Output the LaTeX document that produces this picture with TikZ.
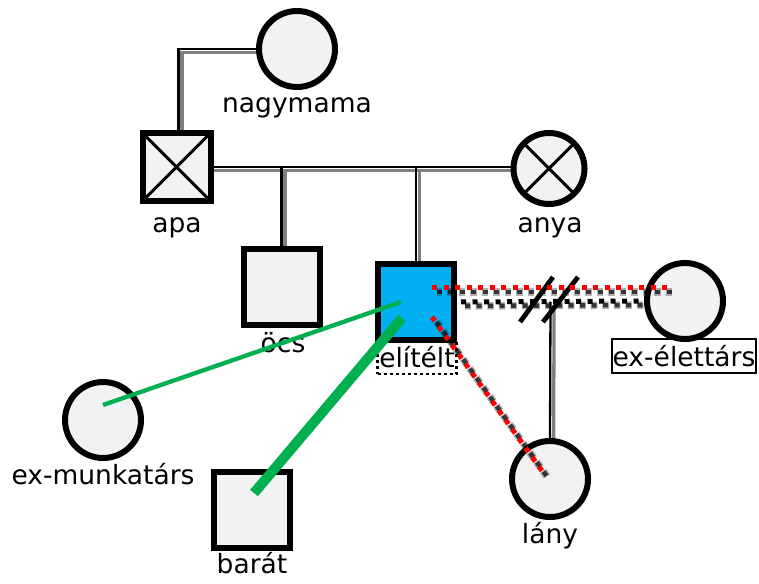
\documentclass[tikz,border=0pt]{standalone}
\usepackage{fontspec}
\setmainfont{DejaVu Sans}
\usetikzlibrary{calc,backgrounds}
\definecolor{pfill}{HTML}{F2F2F2}
\definecolor{eliblue}{HTML}{00B0F0}
\definecolor{relgreen}{HTML}{00B050}
\begin{document}
\begin{tikzpicture}[x=1pt,y=-1pt,
  person/.style={draw=black, line width=6pt, fill=pfill, inner sep=0pt, outer sep=0pt},
  male/.style={person, rectangle, minimum size=76pt},
  female/.style={person, circle, minimum size=76pt},
  lblfont/.style={font=\fontsize{26.5}{31}\selectfont},
  lbl/.style={lblfont, anchor=base, inner sep=0pt},
  famline/.style={line width=2.3pt, draw=black, preaction={draw=gray, line width=3.3pt, transform canvas={shift={(3.6pt,-3.6pt)}}}},
  dotshadow/.style={preaction={draw=black, opacity=0.3, line width=7.5pt, dash pattern=on 6.5pt off 5pt, dash phase=0.75pt, transform canvas={shift={(#1)}}}, preaction={draw=black, opacity=0.7, line width=4.5pt, dash pattern=on 5pt off 6.5pt, transform canvas={shift={(#1)}}}},
  reddots/.style={dotshadow={4.5pt,-5pt}, draw=red, line width=5pt, dash pattern=on 5pt off 6.5pt},
  blackdots/.style={dotshadow={4pt,-4pt}, draw=black, line width=5pt, dash pattern=on 5pt off 6.5pt},
  hashmark/.style={draw=black, line width=4.8pt},
  relthin/.style={draw=relgreen, line width=4.3pt},
  relthick/.style={draw=relgreen, line width=10pt},
]
\useasboundingbox (0,0) rectangle (759,583);

% label behind elitelt
\node[lblfont, draw=black, line width=2.8pt, dash pattern=on 3pt off 3pt, minimum width=79pt, minimum height=33pt, inner sep=0pt] (elil) at (417,357.5) {elítélt};

% persons
\node[female] (nagy) at (297,49) {};
\node[male, minimum size=68pt] (apa) at (176.5,167) {};
\draw[line width=3pt] (apa.north west) -- (apa.south east) (apa.north east) -- (apa.south west);
\node[female, minimum size=71pt] (anya) at (549,168.5) {};
\draw[line width=3pt] (anya.north west) -- (anya.south east) (anya.north east) -- (anya.south west);
\node[male] (ocs) at (281.5,287) {};
\node[male, fill=eliblue] (eli) at (416,302) {};
\node[female] (exe) at (685,301) {};
\node[female] (lany) at (550,479) {};
\node[female] (exm) at (103,420) {};
\node[male] (barat) at (252,510) {};

\node[lbl] (nagyl) at (297,113) {nagymama};
\node[lbl] (apal) at (177,232) {apa};
\node[lbl] (anyal) at (550,232) {anya};
\node[lbl] (ocsl) at (283,352) {öcs};
\node[lbl] (exml) at (103,484) {ex-munkatárs};
\node[lbl] (baratl) at (252,573) {barát};
\node[lbl] (lanyl) at (550,543) {lány};
\node[lblfont, draw=black, line width=1.8pt, minimum width=144pt, minimum height=34pt, inner sep=0pt] (exel) at (684,356) {ex-élettárs};

% family lines
\coordinate (apatop) at ($(apa.north)+(2,0)$);
\coordinate (div) at ($(eli.east)!0.5!(exe.west)$);
\begin{scope}[on background layer]
  \draw[famline] (apatop) |- (nagy.west);
  \draw[famline] (apa.east) -- (apa.east -| anya.west);
  \draw[famline] (ocs.north |- apa.east) -- (ocs.north);
  \draw[famline] (eli.north |- apa.east) -- (eli.north);
  \draw[famline] (div) -- (lany.north);
\end{scope}

% relationship lines
\draw[blackdots, shorten <=7pt, shorten >=3pt] (eli.east) -- (exe.west);
\coordinate (h1a) at ($(div)+(-30.5,20.5)$);
\coordinate (h1b) at ($(div)+(2.5,-24.5)$);
\coordinate (h2a) at ($(div)+(-7.5,20.5)$);
\coordinate (h2b) at ($(div)+(27.5,-24.5)$);
\draw[hashmark] (h1a) -- (h1b);
\draw[hashmark] (h2a) -- (h2b);

\coordinate (r1a) at ($(eli.center)+(16,-15)$);
\coordinate (r1b) at ($(exe.center)+(-17,-14)$);
\draw[reddots] (r1a) -- (r1b);
\coordinate (r2a) at ($(eli.center)+(16,15)$);
\coordinate (r2b) at ($(lany.center)+(-5,-4)$);
\draw[reddots] (r2a) -- (r2b);

\coordinate (g1a) at ($(exm.center)+(0,-15)$);
\coordinate (g1b) at ($(eli.center)+(-15,0)$);
\draw[relthin] (g1a) -- (g1b);
\coordinate (g2a) at ($(barat.center)+(2,-17)$);
\coordinate (g2b) at ($(eli.center)+(-14,16)$);
\draw[relthick] (g2a) -- (g2b);
\end{tikzpicture}
\end{document}
